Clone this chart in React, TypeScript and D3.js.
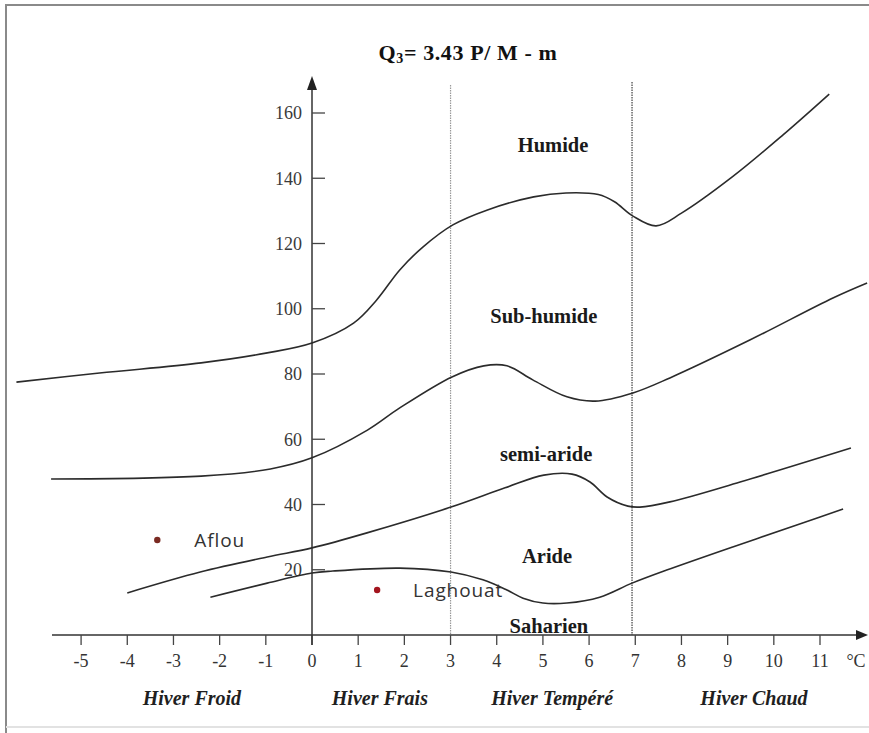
import React, { useRef, useEffect } from 'react';
import * as d3 from 'd3';

// Emberger climagram: Q3 against m (°C)
const mTicks = [-5, -4, -3, -2, -1, 0, 1, 2, 3, 4, 5, 6, 7, 8, 9, 10, 11];
const qTicks = [20, 40, 60, 80, 100, 120, 140, 160];

// stage boundaries, [m, Q3]
const humideLimit: [number, number][] = [
  [-6.4, 77.5], [-4.6, 80.3], [-2.4, 83.4], [-1.0, 86.4], [0, 89.5], [0.9, 95.6],
  [1.4, 102.7], [1.9, 111.9], [2.4, 118.9], [3.05, 125.7], [3.8, 130.3], [4.8, 134.3],
  [5.5, 135.5], [6.2, 135.0], [6.55, 132.8], [6.95, 128.4], [7.45, 125.4], [8.0, 129.3],
  [9.1, 140.4], [10.2, 153.3], [11.2, 165.8],
];
const subHumideLimit: [number, number][] = [
  [-5.65, 47.8], [-2.4, 48.7], [-0.9, 50.9], [0, 54.3], [1.2, 62.8], [1.9, 69.6],
  [3.03, 79.1], [3.72, 82.5], [4.22, 82.5], [4.78, 78.2], [5.52, 73.0], [6.13, 71.7],
  [6.95, 74.2], [7.75, 78.8], [9.48, 90.4], [11.28, 103.3], [12.02, 107.9],
];
const semiAridLimit: [number, number][] = [
  [-4.0, 12.9], [-2.42, 19.3], [-0.97, 23.9], [0, 26.7], [1.19, 31.3], [3.01, 39.2],
  [4.18, 45.1], [5.02, 49.0], [5.63, 49.3], [6.02, 46.9], [6.39, 42.3], [6.84, 39.5],
  [7.1, 39.2], [7.75, 40.8], [9.27, 46.9], [11.67, 57.3],
];
const aridLimit: [number, number][] = [
  [-2.2, 11.6], [-0.97, 15.9], [0, 19.0], [0.45, 19.6], [1.9, 20.5], [3.01, 19.3],
  [3.7, 16.9], [4.22, 13.8], [4.57, 11.3], [5.0, 9.8], [5.52, 9.8], [6.23, 11.6],
  [6.93, 15.9], [7.68, 19.9], [9.11, 27.0], [10.56, 34.0], [11.5, 38.6],
];

const stageNames = ['Humide', 'Sub-humide', 'semi-aride', 'Aride', 'Saharien'];
const stageAt: [number, number][] = [[5.22, 148], [5.02, 95.6], [5.07, 53.3], [5.09, 22], [5.13, 0.6]];

const winterNames = ['Hiver Froid', 'Hiver Frais', 'Hiver Tempéré', 'Hiver Chaud'];
const winterAt = [-2.6, 1.47, 5.2, 9.57];
const winterLimits = [3, 6.93];

const stations = ['Aflou', 'Laghouat'];
const stationM = [-3.35, 1.41];
const stationQ = [29.1, 13.8];

const W = 869;
const H = 733;

const App: React.FC = () => {
  const svgRef = useRef<SVGSVGElement>(null);

  useEffect(() => {
    if (!svgRef.current) return;
    const svg = d3.select(svgRef.current);
    svg.selectAll('*').remove();

    const x = d3.scaleLinear().domain([0, 11]).range([312, 820]);
    const y = d3.scaleLinear().domain([0, 160]).range([635, 113]);
    const serif = '"Liberation Serif", "Times New Roman", serif';

    svg.append('rect').attr('width', W).attr('height', H).attr('fill', '#fff');

    // frame
    svg.append('path')
      .attr('d', `M6,${H} L6,5 L${W},5`)
      .attr('fill', 'none').attr('stroke', '#8a8a8a').attr('stroke-width', 2);
    svg.append('line')
      .attr('x1', 6).attr('x2', W).attr('y1', 727).attr('y2', 727)
      .attr('stroke', '#e2e2e2').attr('stroke-width', 2);

    // winter limits (dotted)
    svg.selectAll('.limit')
      .data(winterLimits)
      .join('line')
      .attr('x1', d => x(d)).attr('x2', d => x(d))
      .attr('y1', (_, i) => (i === 0 ? 85 : 82)).attr('y2', y(0))
      .attr('stroke', (_, i) => (i === 0 ? '#9a9a9a' : '#6f6f6f'))
      .attr('stroke-width', (_, i) => (i === 0 ? 1.2 : 1.6))
      .attr('stroke-dasharray', '1.5,1');

    // x axis
    const y0 = y(0);
    svg.append('line')
      .attr('x1', 52).attr('x2', 858).attr('y1', y0).attr('y2', y0)
      .attr('stroke', '#333').attr('stroke-width', 1.5);
    svg.append('path')
      .attr('d', `M868,${y0} L856,${y0 - 5} L856,${y0 + 5} Z`)
      .attr('fill', '#222');
    svg.selectAll('.xtick')
      .data(mTicks)
      .join('line')
      .attr('x1', d => x(d)).attr('x2', d => x(d))
      .attr('y1', y0).attr('y2', y0 + 10)
      .attr('stroke', '#444').attr('stroke-width', 1.3);
    svg.selectAll('.xlab')
      .data(mTicks)
      .join('text')
      .attr('x', d => x(d)).attr('y', y0 + 32)
      .attr('text-anchor', 'middle')
      .attr('font-family', serif).attr('font-size', 18).attr('fill', '#333')
      .text(d => String(d));
    svg.append('text')
      .attr('x', 856).attr('y', y0 + 32).attr('text-anchor', 'middle')
      .attr('font-family', serif).attr('font-size', 18).attr('fill', '#333')
      .text('°C');

    // y axis
    svg.append('line')
      .attr('x1', x(0)).attr('x2', x(0)).attr('y1', y0 + 10).attr('y2', 88)
      .attr('stroke', '#333').attr('stroke-width', 1.5);
    svg.append('path')
      .attr('d', `M${x(0)},76 L${x(0) - 5},90 L${x(0) + 5},90 Z`)
      .attr('fill', '#222');
    svg.selectAll('.ytick')
      .data(qTicks)
      .join('line')
      .attr('x1', x(0)).attr('x2', x(0) + 13)
      .attr('y1', d => y(d)).attr('y2', d => y(d))
      .attr('stroke', '#444').attr('stroke-width', 1.3);
    svg.selectAll('.ylab')
      .data(qTicks)
      .join('text')
      .attr('x', x(0) - 10).attr('y', d => y(d))
      .attr('dy', '0.35em')
      .attr('text-anchor', 'end')
      .attr('font-family', serif).attr('font-size', 18).attr('fill', '#3a3a3a')
      .text(d => String(d));

    // boundaries
    const line = d3.line<[number, number]>()
      .x(d => x(d[0]))
      .y(d => y(d[1]))
      .curve(d3.curveCatmullRom.alpha(0.5));
    svg.selectAll('.limitCurve')
      .data([humideLimit, subHumideLimit, semiAridLimit, aridLimit])
      .join('path')
      .attr('d', d => line(d))
      .attr('fill', 'none')
      .attr('stroke', '#2b2b2b')
      .attr('stroke-width', 1.6);

    // stage labels
    svg.selectAll('.stage')
      .data(stageNames)
      .join('text')
      .attr('x', (_, i) => x(stageAt[i][0]))
      .attr('y', (_, i) => y(stageAt[i][1]))
      .attr('text-anchor', 'middle')
      .attr('font-family', serif).attr('font-weight', 'bold').attr('font-size', 20.5)
      .attr('fill', '#1a1a1a')
      .text(d => d);

    // winter types
    svg.selectAll('.winter')
      .data(winterNames)
      .join('text')
      .attr('x', (_, i) => x(winterAt[i]))
      .attr('y', 705)
      .attr('text-anchor', 'middle')
      .attr('font-family', serif).attr('font-weight', 'bold').attr('font-style', 'italic')
      .attr('font-size', 20).attr('fill', '#1f1f1f')
      .text(d => d);

    // stations
    svg.selectAll('.station')
      .data(stations)
      .join('circle')
      .attr('cx', (_, i) => x(stationM[i]))
      .attr('cy', (_, i) => y(stationQ[i]))
      .attr('r', 3.2)
      .attr('fill', (_, i) => (i === 0 ? '#7a2a22' : '#a3141e'));
    svg.selectAll('.stationLab')
      .data(stations)
      .join('text')
      .attr('x', (_, i) => x(stationM[i]) + (i === 0 ? 37 : 36))
      .attr('y', (_, i) => y(stationQ[i]))
      .attr('dy', '0.35em')
      .attr('font-family', '"Open Sans", "Noto Sans", sans-serif')
      .attr('font-size', 19).attr('letter-spacing', 0.9).attr('fill', '#333')
      .text(d => d);

    // title
    const title = svg.append('text')
      .attr('x', 468).attr('y', 60)
      .attr('text-anchor', 'middle')
      .attr('font-family', serif).attr('font-weight', 'bold').attr('font-size', 22)
      .attr('letter-spacing', 0.6)
      .attr('fill', '#111');
    title.append('tspan').text('Q');
    title.append('tspan').attr('font-size', 14).attr('dy', 3).text('3');
    title.append('tspan').attr('dy', -3).text('= 3.43 P/ M - m');
  }, []);

  return (
    <svg
      ref={svgRef}
      width={W}
      height={H}
      style={{ position: 'absolute', left: 0, top: 0, display: 'block' }}
    />
  );
};

export default App;
